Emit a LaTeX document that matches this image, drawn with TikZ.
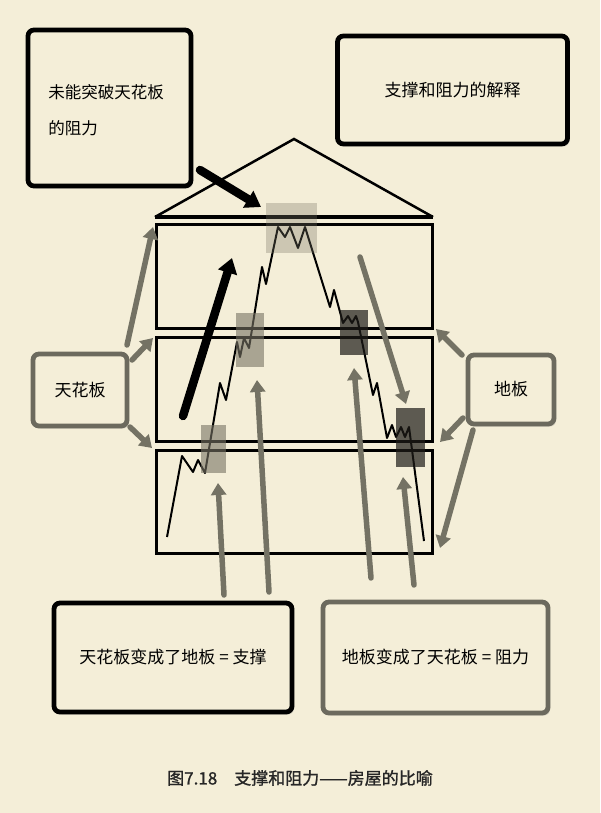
\documentclass[tikz,border=0pt]{standalone}
\usepackage{fontspec}
\setmainfont{Noto Sans CJK SC}
\newfontfamily\capfont{Noto Sans CJK SC}[FakeBold=1.2]
\usetikzlibrary{arrows.meta,shadows}
\definecolor{bgc}{RGB}{244,238,216}
\definecolor{garrow}{RGB}{116,114,100}
\definecolor{gbox}{RGB}{108,106,94}
\definecolor{shadec}{RGB}{120,116,100}
\definecolor{darkshade}{RGB}{30,28,24}
\begin{document}
\begin{tikzpicture}[x=1pt,y=-1pt,
  boxb/.style={draw=black, line width=4.8pt, rounded corners=6pt, fill=bgc, inner sep=0pt,
    drop shadow={shadow xshift=2pt, shadow yshift=-2.5pt, opacity=0.3},
    font=\fontsize{17pt}{20pt}\selectfont},
  boxg/.style={boxb, draw=gbox},
  floorline/.style={line width=3pt},
  garr/.style={draw=garrow, line width=5.5pt, line cap=round, -{Triangle[width=15pt,length=12pt]}},
  barr/.style={draw=black, line width=8.5pt, line cap=round, -{Triangle[width=19pt,length=15pt]}},
  lightsq/.style={fill=shadec, fill opacity=0.32},
  midsq/.style={fill=shadec, fill opacity=0.6},
  darksq/.style={fill=darkshade, fill opacity=0.7}
]
\useasboundingbox (0,0) rectangle (600,813);
\fill[bgc] (0,0) rectangle (600,813);

% house
\coordinate (roofL) at (155,217);
\coordinate (roofT) at (294,139);
\coordinate (roofR) at (433,217);
\draw[line width=2.5pt] (roofL) -- (roofT) -- (roofR);
\draw[line width=3.2pt] (roofL) -- (roofR);
\draw[floorline] (156,224) rectangle (432,328);
\draw[floorline] (156,337) rectangle (432,441);
\draw[floorline] (156,450) rectangle (432,553);

% price line
\draw[line width=2pt, line join=round]
  (167,537) -- (182,456) -- (193,472) -- (198,460) -- (205,473) -- (220,383) -- (226,400)
  -- (237,342) -- (240,357) -- (244,338) -- (249,348) -- (262,267) -- (266,284)
  -- (278,227) -- (285,237) -- (290,227) -- (298,248) -- (305,227) -- (330,307)
  -- (334,290) -- (343,323) -- (348,316) -- (352,323) -- (356,316) -- (358,322)
  -- (373,395) -- (377,383) -- (387,438) -- (392,425) -- (396,437) -- (401,427)
  -- (405,437) -- (409,427) -- (424,541);

% shaded squares
\fill[lightsq] (266,203) rectangle (317,253);
\fill[midsq] (236,313) rectangle (264,367);
\fill[midsq] (201,425) rectangle (226,473);
\fill[darksq] (340,310) rectangle (368,355);
\fill[darksq] (396,408) rectangle (425,467);

% boxes
\node[boxb, minimum width=163pt, minimum height=156pt] (tl) at (109.5,108) {};
\node[align=left, inner sep=0pt, font=\fontsize{16.5pt}{36pt}\selectfont] (tltext) at (106,110) {未能突破天花板\\的阻力};
\node[boxb, minimum width=230pt, minimum height=108pt] (tr) at (452.5,90) {支撑和阻力的解释};
\node[boxg, minimum width=94pt, minimum height=72pt] (lb) at (80,390) {天花板};
\node[boxg, minimum width=86pt, minimum height=69pt] (rb) at (511,389.5) {地板};
\node[boxb, minimum width=238pt, minimum height=109pt] (bl) at (173,657.5) {天花板变成了地板 = 支撑};
\node[boxg, minimum width=225pt, minimum height=111pt] (br) at (435.5,657.5) {地板变成了天花板 = 阻力};

% arrow end points
\coordinate (a1s) at (127,345);   \coordinate (a1e) at (153,227);
\coordinate (a2s) at (132,360);   \coordinate (a2e) at (153,338);
\coordinate (a3s) at (130,427);   \coordinate (a3e) at (152,448);
\coordinate (b1s) at (462,355);   \coordinate (b1e) at (436,329);
\coordinate (b2s) at (463,418);   \coordinate (b2e) at (440,442);
\coordinate (b3s) at (473,430);   \coordinate (b3e) at (440,548);
\coordinate (c1s) at (224,595);   \coordinate (c1e) at (218,483);
\coordinate (c2s) at (269,592);   \coordinate (c2e) at (257,380);
\coordinate (c3s) at (371,578);   \coordinate (c3e) at (354,368);
\coordinate (c4s) at (414,585);   \coordinate (c4e) at (403,477);
\coordinate (ds) at (360,257);    \coordinate (de) at (406,404);
\coordinate (k1s) at (200,170);   \coordinate (k1e) at (261,207);
\coordinate (k2s) at (183,416);   \coordinate (k2e) at (232,258);

% gray arrows
\draw[garr] (a1s) -- (a1e);
\draw[garr] (a2s) -- (a2e);
\draw[garr] (a3s) -- (a3e);
\draw[garr] (b1s) -- (b1e);
\draw[garr] (b2s) -- (b2e);
\draw[garr] (b3s) -- (b3e);
\draw[garr] (c1s) -- (c1e);
\draw[garr] (c2s) -- (c2e);
\draw[garr] (c3s) -- (c3e);
\draw[garr] (c4s) -- (c4e);
\draw[garr] (ds) -- (de);

% black arrows
\draw[barr] (k1s) -- (k1e);
\draw[barr] (k2s) -- (k2e);

% caption
\node[font=\capfont\fontsize{17pt}{20pt}\selectfont, text=black!85] (cap) at (300,778) {图7.18　支撑和阻力——房屋的比喻};
\end{tikzpicture}
\end{document}
